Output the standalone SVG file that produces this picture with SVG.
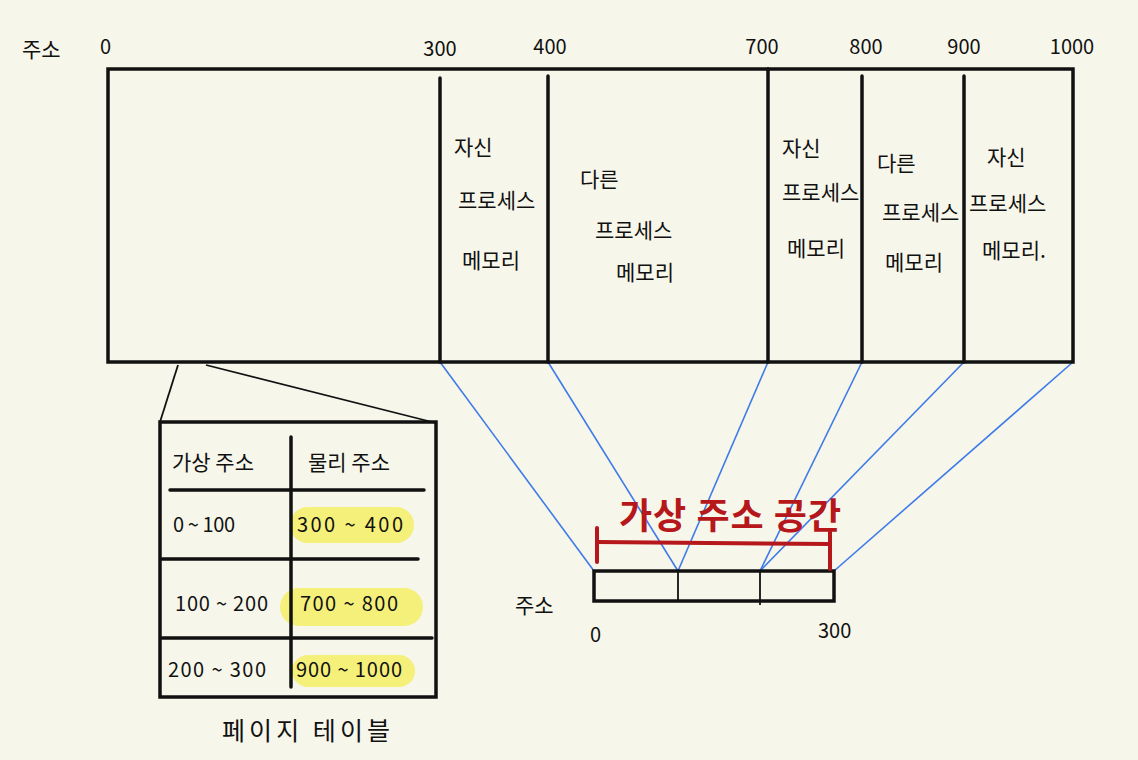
<svg xmlns="http://www.w3.org/2000/svg" width="1138" height="760" viewBox="0 0 1138 760">
<style>
.t{font-family:"Noto Sans CJK KR","Noto Sans",sans-serif;fill:#111;}
.n{font-size:20px;}
.m{font-size:20px;text-anchor:middle;}
.k{font-size:21px;}
.blk{stroke:#111;stroke-width:3.5;fill:none;stroke-linecap:round;}
.thin{stroke:#111;stroke-width:1.8;fill:none;}
.blue{stroke:#3f7be8;stroke-width:1.6;fill:none;}
.red{stroke:#b5171b;stroke-width:4;fill:none;stroke-linecap:round;}
.hl{fill:#f4f07a;}
</style>
<rect width="1138" height="760" fill="#f7f6ea"/>

<g id="connectors">
<line class="blue" x1="440" y1="362" x2="594" y2="571"/>
<line class="blue" x1="548" y1="362" x2="678" y2="571"/>
<line class="blue" x1="768" y1="362" x2="678" y2="571"/>
<line class="blue" x1="862" y1="362" x2="760" y2="571"/>
<line class="blue" x1="964" y1="362" x2="760" y2="571"/>
<line class="blue" x1="1073" y1="362" x2="834" y2="571"/>
<line class="thin" x1="178" y1="365" x2="160" y2="422"/>
<line class="thin" x1="206" y1="365" x2="436" y2="423"/>
</g>

<g id="physical-memory">
<rect class="blk" x="108" y="69" width="965" height="293"/>
<line class="blk" x1="440" y1="78" x2="440" y2="362"/>
<line class="blk" x1="548" y1="76" x2="548" y2="362"/>
<line class="blk" x1="768" y1="69" x2="768" y2="362"/>
<line class="blk" x1="862" y1="76" x2="862" y2="362"/>
<line class="blk" x1="964" y1="76" x2="964" y2="362"/>
<text class="t" x="22" y="57" font-size="21">주소</text>
<text class="t n" x="100" y="54">0</text>
<text class="t m" x="440" y="56">300</text>
<text class="t m" x="550" y="54">400</text>
<text class="t m" x="762" y="54">700</text>
<text class="t m" x="866" y="54">800</text>
<text class="t m" x="964" y="54">900</text>
<text class="t m" x="1072" y="54">1000</text>
</g>

<g id="seg-300-400">
<text class="t k" x="454" y="155">자신</text>
<text class="t k" x="458" y="208">프로세스</text>
<text class="t k" x="462" y="268">메모리</text>
</g>
<g id="seg-400-700">
<text class="t k" x="580" y="187">다른</text>
<text class="t k" x="595" y="238">프로세스</text>
<text class="t k" x="616" y="280">메모리</text>
</g>
<g id="seg-700-800">
<text class="t k" x="782" y="156">자신</text>
<text class="t k" x="782" y="200">프로세스</text>
<text class="t k" x="787" y="256">메모리</text>
</g>
<g id="seg-800-900">
<text class="t k" x="877" y="171">다른</text>
<text class="t k" x="882" y="220">프로세스</text>
<text class="t k" x="885" y="270">메모리</text>
</g>
<g id="seg-900-1000">
<text class="t k" x="987" y="165">자신</text>
<text class="t k" x="969" y="211">프로세스</text>
<text class="t k" x="982" y="258">메모리.</text>
</g>

<g id="page-table">
<rect class="hl" x="290" y="507" width="124" height="36" rx="18"/>
<rect class="hl" x="280" y="588" width="143" height="38" rx="19"/>
<rect class="hl" x="292" y="655" width="123" height="32" rx="16"/>
<rect class="blk" x="160" y="422" width="276" height="275"/>
<line class="blk" x1="291" y1="437" x2="291" y2="687"/>
<line class="blk" x1="170" y1="490" x2="424" y2="490"/>
<line class="blk" x1="162" y1="559" x2="418" y2="559"/>
<line class="blk" x1="162" y1="638" x2="432" y2="638"/>
<text class="t k" x="172" y="470">가상 주소</text>
<text class="t k" x="308" y="470">물리 주소</text>
<text class="t n" x="173" y="532" textLength="62">0 ~ 100</text>
<text class="t n" x="297" y="532" textLength="106">300 ~ 400</text>
<text class="t n" x="175" y="611" textLength="93">100 ~ 200</text>
<text class="t n" x="300" y="611" textLength="98">700 ~ 800</text>
<text class="t n" x="168" y="677" textLength="98">200 ~ 300</text>
<text class="t n" x="296" y="677" textLength="106">900 ~ 1000</text>
<text class="t" x="222" y="740" font-size="25" textLength="168">페이지 테이블</text>
</g>

<g id="virtual-space">
<rect class="blk" x="594" y="571" width="240" height="30"/>
<line class="thin" x1="678" y1="571" x2="678" y2="601"/>
<line class="thin" x1="760" y1="571" x2="760" y2="605"/>
<line class="red" x1="597" y1="542" x2="830" y2="544"/>
<line class="red" x1="597" y1="528" x2="597" y2="562"/>
<line class="red" x1="830" y1="532" x2="830" y2="569"/>
<text class="t" x="619" y="529" font-size="36" font-weight="700" textLength="222" style="fill:#b5171b">가상 주소 공간</text>
<text class="t" x="515" y="613" font-size="21">주소</text>
<text class="t n" x="590" y="642">0</text>
<text class="t n" x="818" y="638">300</text>
</g>
</svg>
